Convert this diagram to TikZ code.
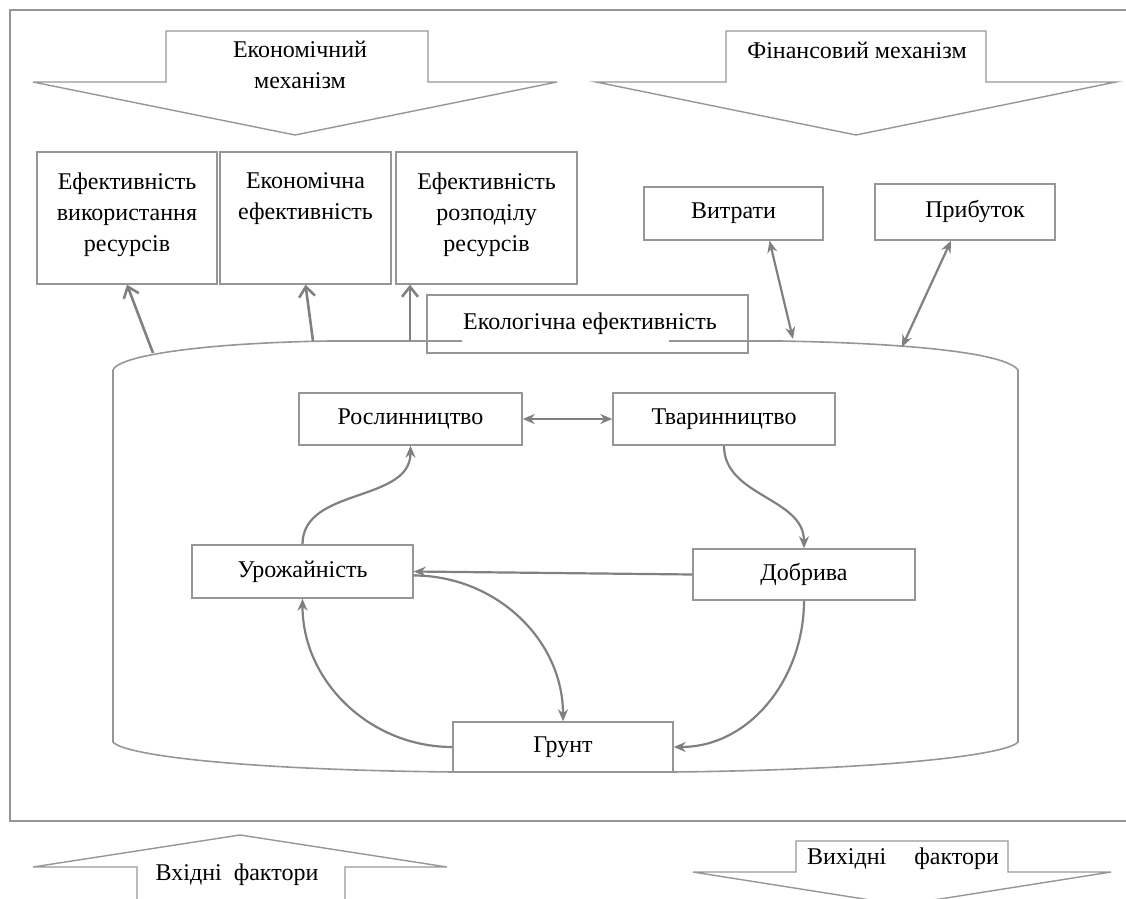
\documentclass[tikz,border=0pt]{standalone}
\usepackage{fontspec}
\setmainfont{Liberation Serif}
\usetikzlibrary{arrows.meta, positioning}
\definecolor{linegray}{RGB}{128,128,128}
\definecolor{boxgray}{RGB}{150,150,150}
\tikzset{
  box/.style={draw=boxgray, line width=0.7pt, inner sep=0pt, align=center},
  flow/.style={draw=boxgray, line width=0.7pt},
  link/.style={draw=linegray, line width=1.1pt, -{Stealth[length=6pt, width=5pt]}},
  uplink/.style={draw=linegray, line width=1.3pt, -{Straight Barb[length=5pt, width=8pt]}},
  twoway/.style={draw=linegray, line width=1.1pt, {Stealth[length=6pt, width=5pt]}-{Stealth[length=6pt, width=5pt]}},
  boxtext/.style={align=center, inner sep=0pt}
}

\begin{document}
\begin{tikzpicture}[x=0.5pt, y=-0.5pt, font=\fontsize{12}{15.5}\selectfont]
	\useasboundingbox (0,0) rectangle (1126,899);
	\clip (0,0) rectangle (1126,899);

	\draw[flow, line width=1.2pt] (1126,10) -- (10,10) -- (10,821) -- (1126,821);

	\draw[flow] (166,31) -- (428,31) -- (428,82) -- (557,82) -- (295,135) -- (33,82) -- (166,82) -- cycle;
	\node[boxtext] (econ) at (300,65) {Економічний\\механізм};
	\draw[flow] (726,31) -- (986,31) -- (986,82) -- (1116,82) -- (856,135) -- (596,82) -- (726,82) -- cycle;
	\node[boxtext] (fin) at (857,50) {Фінансовий механізм};

	\node[box, minimum width=90pt, minimum height=66pt] (eff1) at (127,218) {};
	\node[box, minimum width=85.5pt, minimum height=66pt] (eff2) at (305.5,218) {};
	\node[box, minimum width=90.5pt, minimum height=66pt] (eff3) at (486.5,218) {};
	\node[boxtext, below=10.5pt of eff1.north] (eff1-t) {Ефективність\\використання\\ресурсів};
	\node[boxtext, below=10.5pt of eff2.north] (eff2-t) {Економічна\\ефективність};
	\node[boxtext, below=10.5pt of eff3.north] (eff3-t) {Ефективність\\розподілу\\ресурсів};

	\node[box, minimum width=89.5pt, minimum height=26.5pt] (cost) at (733.5,213.5) {Витрати};
	\node[box, minimum width=90pt, minimum height=28pt] (profit) at (965,212) {\hspace{10pt}Прибуток};
	\node[box, minimum width=160.5pt, minimum height=29pt] (eco) at (587.5,324) {};
	\node[boxtext] (eco-t) at (590,324) {Екологічна ефективність};

	\draw[flow, line width=0.8pt] (462,341) -- (330,341) .. controls (200,343) and (118,356) .. (113,370)
		-- (113,742) .. controls (125,756) and (250,770) .. (453,772);
	\draw[flow, line width=0.8pt] (673,772) .. controls (870,770) and (1006,756) .. (1018,742)
		-- (1018,370) .. controls (1005,352) and (900,343) .. (780,341) -- (669,341);

	\coordinate (c1) at (153,353);
	\coordinate (c2) at (313,341);
	\coordinate (c3) at (410,341);
	\coordinate (c4) at (793,339);
	\coordinate (c5) at (902,347);

	\draw[uplink] (c1) -- (eff1.south);
	\draw[uplink] (c2) -- (eff2.south);
	\draw[uplink] (c3) -- (c3 |- eff3.south);
	\draw[twoway] (c4) -- ([xshift=18pt]cost.south);
	\draw[twoway] (c5) -- ([xshift=-7pt]profit.south);

	\node[box, minimum width=111.5pt, minimum height=26pt] (crop) at (410.5,419) {Рослинництво};
	\node[box, minimum width=111pt, minimum height=26pt] (stock) at (724,419) {Тваринництво};
	\node[box, minimum width=110.5pt, minimum height=26.5pt] (yield) at (302.5,571.5) {Урожайність};
	\node[box, minimum width=111pt, minimum height=25.5pt] (fert) at (804,574.5) {Добрива};
	\node[box, minimum width=110pt, minimum height=25pt] (soil) at (563,747) {Грунт};

	\draw[twoway] (crop) -- (stock);
	\draw[link] (yield.north) to[out=90, in=-90] (crop.south);
	\draw[link] (stock.south) to[out=-90, in=90] (fert.north);
	\draw[link] (fert.west) -- (yield.east);
	\draw[link] ([yshift=-2pt]yield.east) to[out=0, in=90] (soil.north);
	\draw[link] (soil.west) to[out=180, in=-90] (yield.south);
	\draw[link] (fert.south) to[out=-90, in=0] (soil.east);

	\draw[flow] (240,835) -- (447,867) -- (345,867) -- (345,910) -- (137,910) -- (137,867) -- (33,867) -- cycle;
	\node[boxtext] (inputs) at (237,875) {Вхідні\ \ фактори};
	\draw[flow] (796,841) -- (1008,841) -- (1008,872) -- (1111,872) -- (902,905) -- (693,872) -- (796,872) -- cycle;
	\node[boxtext] (outputs) at (903,859) {Вихідні\hspace{14pt}фактори};
\end{tikzpicture}
\end{document}
